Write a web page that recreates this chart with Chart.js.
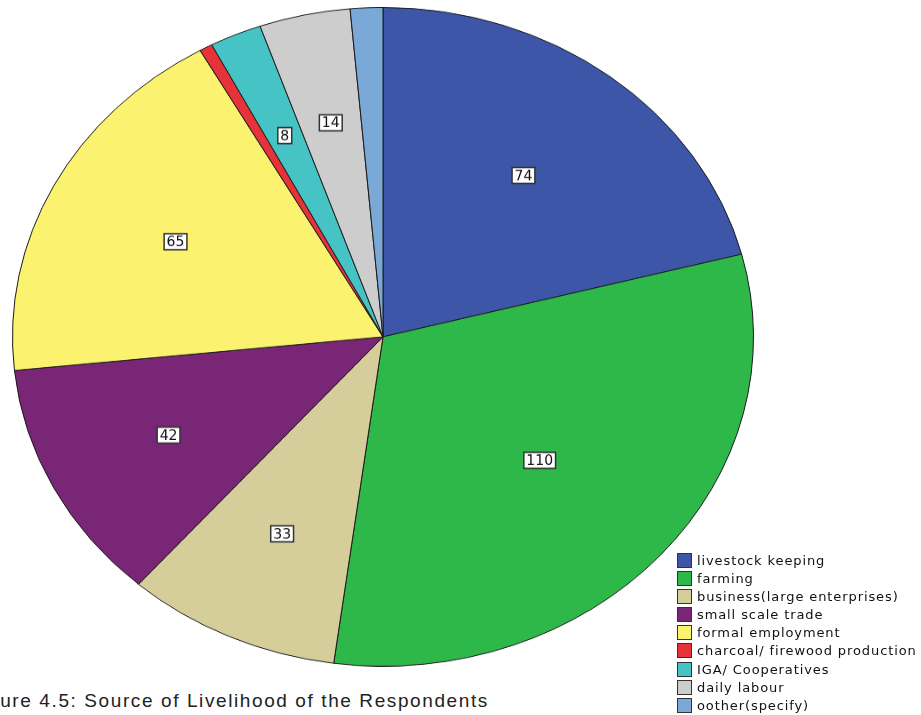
<!DOCTYPE html>
<html>
<head>
<meta charset="utf-8">
<script src="https://cdn.jsdelivr.net/npm/chart.js@4.4.1/dist/chart.umd.min.js"></script>
<style>
  body { margin: 0; background: #fff; width: 921px; height: 715px; overflow: hidden; position: relative; }
  #pieWrap { position: absolute; left: 12px; top: 7px; width: 742px; height: 742px; transform: scaleY(0.889); transform-origin: 0 0; }
  #legend { position: absolute; left: 677px; top: 553px; font-family: "DejaVu Sans", sans-serif; font-size: 13px; letter-spacing: 0.9px; color: #111; }
  #legend div { height: 18.1px; line-height: 16px; white-space: nowrap; }
  #legend span.box { display: inline-block; border: 1.5px solid #333; vertical-align: -3px; margin-right: 5px; box-sizing: border-box; width: 15px; height: 15px; }
  #caption { position: absolute; left: -31px; top: 690px; font-family: "Liberation Sans", Arial, sans-serif; font-size: 19px; color: #222; letter-spacing: 1.6px; white-space: nowrap; }
</style>
</head>
<body>
<div id="pieWrap"><canvas id="pieChart" width="742" height="742"></canvas></div>
<div id="legend"></div>
<div id="caption">Figure 4.5: Source of Livelihood of the Respondents</div>
<script>
  // Данные
  const categories = ["livestock keeping", "farming", "business(large enterprises)", "small scale trade",
    "formal employment", "charcoal/ firewood production", "IGA/ Cooperatives", "daily labour", "oother(specify)"];
  const counts = [74, 110, 33, 42, 65, 2, 8, 14, 5];
  const colors = ["#3d56a8", "#2eb84a", "#d5cd9a", "#7a2677", "#fbf36f", "#e8323a", "#46c3c4", "#cdcdcd", "#7aa9d7"];

  const SQUASH = 0.889;

  // подписи на секторах (в центре тяжести сектора)
  const sliceLabels = {
    id: "sliceLabels",
    afterDatasetsDraw(chart) {
      const ctx = chart.ctx;
      chart.getDatasetMeta(0).data.forEach((arc, i) => {
        if (counts[i] < 8) return;
        const p = arc.getProps(["x", "y", "startAngle", "endAngle", "outerRadius"], true);
        const mid = (p.startAngle + p.endAngle) / 2;
        const half = (p.endAngle - p.startAngle) / 2;
        const r = p.outerRadius * 2 * Math.sin(half) / (3 * half);
        ctx.save();
        ctx.translate(p.x + Math.cos(mid) * r, p.y + Math.sin(mid) * r);
        ctx.scale(1, 1 / SQUASH);
        ctx.font = "14px 'DejaVu Sans', sans-serif";
        const txt = String(counts[i]);
        const w = ctx.measureText(txt).width + 5, h = 16;
        ctx.fillStyle = "#fff";
        ctx.fillRect(-w / 2, -h / 2, w, h);
        ctx.strokeStyle = "#333";
        ctx.lineWidth = 1.5;
        ctx.strokeRect(-w / 2, -h / 2, w, h);
        ctx.fillStyle = "#111";
        ctx.textAlign = "center";
        ctx.textBaseline = "middle";
        ctx.fillText(txt, 0, 1);
        ctx.restore();
      });
    }
  };

  new Chart(document.getElementById("pieChart"), {
    type: "pie",
    data: {
      labels: categories,
      datasets: [{ data: counts, backgroundColor: colors, borderColor: "#1a1a1a", borderWidth: 1 }]
    },
    options: {
      responsive: false,
      animation: false,
      layout: { padding: 0 },
      plugins: { legend: { display: false }, tooltip: { enabled: false } }
    },
    plugins: [sliceLabels]
  });

  // легенда
  const legend = document.getElementById("legend");
  categories.forEach((c, i) => {
    const row = document.createElement("div");
    row.innerHTML = '<span class="box" style="background:' + colors[i] + '"></span>' + c;
    legend.appendChild(row);
  });
</script>
</body>
</html>
